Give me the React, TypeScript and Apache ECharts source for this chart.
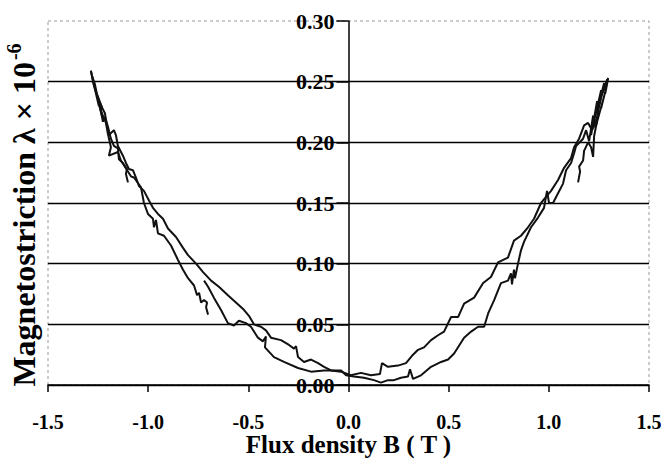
import React, { useEffect, useRef } from "react";
import * as echarts from "echarts";

// Tick labels
const xTickValues = [-1.5, -1.0, -0.5, 0.0, 0.5, 1.0, 1.5];
const yTickValues = [0.0, 0.05, 0.1, 0.15, 0.2, 0.25, 0.3];

// Flux density B (T), magnetostriction (x 1e-6)
const startBranch: number[][] = [
  [-0.701, 0.058], [-0.711, 0.064], [-0.706, 0.068], [-0.721, 0.07], [-0.736, 0.068],
  [-0.746, 0.076], [-0.756, 0.074], [-0.771, 0.082], [-0.801, 0.088], [-0.826, 0.095],
  [-0.851, 0.103], [-0.886, 0.115], [-0.921, 0.123], [-0.951, 0.125], [-0.961, 0.136],
  [-0.971, 0.13], [-0.976, 0.137], [-1.001, 0.141], [-1.021, 0.15], [-1.036, 0.163],
  [-1.071, 0.171], [-1.086, 0.172], [-1.136, 0.185], [-1.151, 0.192], [-1.196, 0.189],
  [-1.186, 0.196], [-1.201, 0.207], [-1.211, 0.216], [-1.236, 0.226], [-1.251, 0.237],
  [-1.271, 0.247], [-1.286, 0.259],
];

const risingBranch: number[][] = [
  [-1.286, 0.259], [-1.266, 0.244], [-1.276, 0.251], [-1.246, 0.23], [-1.261, 0.241],
  [-1.231, 0.222], [-1.246, 0.234], [-1.216, 0.224], [-1.206, 0.214], [-1.196, 0.206],
  [-1.171, 0.21], [-1.161, 0.206], [-1.151, 0.197], [-1.126, 0.189], [-1.111, 0.183],
  [-1.096, 0.178], [-1.076, 0.177], [-1.061, 0.171], [-1.046, 0.164], [-1.021, 0.16],
  [-0.996, 0.152], [-0.976, 0.146], [-0.951, 0.141], [-0.926, 0.137], [-0.901, 0.129],
  [-0.861, 0.122], [-0.826, 0.113], [-0.801, 0.107], [-0.761, 0.1], [-0.726, 0.093],
  [-0.686, 0.086], [-0.647, 0.081], [-0.602, 0.074], [-0.562, 0.068], [-0.522, 0.062],
  [-0.497, 0.057], [-0.472, 0.05], [-0.437, 0.048], [-0.412, 0.045], [-0.387, 0.039],
  [-0.337, 0.037], [-0.297, 0.033], [-0.272, 0.03], [-0.262, 0.032], [-0.252, 0.023],
  [-0.222, 0.019], [-0.187, 0.021], [-0.152, 0.018], [-0.122, 0.015], [-0.087, 0.012],
  [-0.037, 0.012], [-0.012, 0.008], [0.027, 0.007], [0.077, 0.006], [0.127, 0.004],
  [0.162, 0.002], [0.197, 0.004], [0.227, 0.004], [0.262, 0.006], [0.297, 0.007],
  [0.307, 0.013], [0.322, 0.005], [0.362, 0.008], [0.412, 0.015], [0.462, 0.019],
  [0.497, 0.021], [0.527, 0.026], [0.577, 0.039], [0.612, 0.044], [0.647, 0.048],
  [0.677, 0.048], [0.697, 0.059], [0.727, 0.07], [0.761, 0.084], [0.796, 0.086],
  [0.811, 0.092], [0.816, 0.083], [0.826, 0.095], [0.831, 0.088], [0.846, 0.1],
  [0.861, 0.111], [0.876, 0.118], [0.911, 0.13], [0.946, 0.138], [0.976, 0.146],
  [0.991, 0.16], [1.001, 0.15], [1.021, 0.15], [1.046, 0.158], [1.071, 0.166],
  [1.086, 0.177], [1.111, 0.183], [1.126, 0.191], [1.136, 0.197], [1.171, 0.203],
  [1.186, 0.21], [1.201, 0.201], [1.221, 0.222], [1.211, 0.206], [1.241, 0.234],
  [1.221, 0.214], [1.261, 0.243], [1.241, 0.226], [1.276, 0.249], [1.256, 0.236],
  [1.296, 0.253],
];

const fallingBranch: number[][] = [
  [1.296, 0.253], [1.281, 0.24], [1.291, 0.248], [1.261, 0.228], [1.276, 0.238],
  [1.246, 0.22], [1.266, 0.232], [1.236, 0.214], [1.251, 0.224], [1.216, 0.21],
  [1.196, 0.216], [1.176, 0.214], [1.151, 0.203], [1.126, 0.196], [1.111, 0.187],
  [1.076, 0.179], [1.046, 0.169], [1.011, 0.16], [0.986, 0.155], [0.961, 0.15],
  [0.926, 0.137], [0.896, 0.13], [0.861, 0.123], [0.826, 0.119], [0.796, 0.105],
  [0.746, 0.101], [0.711, 0.089], [0.672, 0.084], [0.627, 0.072], [0.577, 0.067],
  [0.547, 0.056], [0.512, 0.056], [0.477, 0.044], [0.447, 0.041], [0.412, 0.037],
  [0.377, 0.031], [0.347, 0.029], [0.322, 0.025], [0.287, 0.018], [0.247, 0.016],
  [0.197, 0.015], [0.167, 0.018], [0.157, 0.009], [0.112, 0.008], [0.062, 0.01],
  [0.012, 0.008], [-0.037, 0.011], [-0.087, 0.012], [-0.122, 0.012], [-0.187, 0.011],
  [-0.252, 0.014], [-0.322, 0.019], [-0.372, 0.023], [-0.417, 0.031], [-0.412, 0.04],
  [-0.427, 0.036], [-0.452, 0.039], [-0.487, 0.048], [-0.512, 0.051], [-0.547, 0.053],
  [-0.572, 0.049], [-0.602, 0.051], [-0.637, 0.062], [-0.672, 0.072], [-0.701, 0.081],
  [-0.721, 0.086],
];

const leftSpur: number[][] = [
  [-1.101, 0.167], [-1.111, 0.174], [-1.106, 0.178], [-1.126, 0.183], [-1.146, 0.186],
  [-1.151, 0.195], [-1.171, 0.197], [-1.186, 0.203], [-1.201, 0.213], [-1.216, 0.221],
  [-1.226, 0.217], [-1.241, 0.231], [-1.231, 0.229], [-1.256, 0.24], [-1.266, 0.248],
  [-1.281, 0.255],
];

const rightSpur: number[][] = [
  [1.146, 0.167], [1.156, 0.176], [1.151, 0.18], [1.171, 0.185], [1.176, 0.193],
  [1.196, 0.2], [1.211, 0.196], [1.221, 0.188], [1.226, 0.205], [1.241, 0.218],
  [1.231, 0.212], [1.251, 0.23], [1.241, 0.222], [1.266, 0.24], [1.256, 0.236],
  [1.281, 0.246], [1.291, 0.252],
];

const FONT = "'Liberation Serif', 'Times New Roman', serif";

export default function App() {
  const ref = useRef<HTMLDivElement>(null);

  useEffect(() => {
    if (!ref.current) return;
    const chart = echarts.init(ref.current, null, { renderer: "svg" });
    const lineStyle = { color: "#111", width: 2 };
    const mk = (name: string, data: number[][]) => ({
      type: "line",
      name,
      data,
      showSymbol: false,
      symbol: "none",
      lineStyle,
      z: 3,
    });
    const gl = 48, gt = 21, gr = 16, gb = 80;
    const W = 665, H = 465;
    const plotW = W - gl - gr;
    chart.setOption({
      animation: false,
      backgroundColor: "#ffffff",
      grid: { left: gl, right: gr, top: gt, bottom: gb, show: false },
      xAxis: {
        type: "value",
        min: xTickValues[0],
        max: xTickValues[xTickValues.length - 1],
        interval: 0.5,
        axisLine: { lineStyle: { color: "#000", width: 1.5 } },
        axisTick: { length: 7, lineStyle: { color: "#000", width: 1.5 } },
        axisLabel: {
          formatter: (v: number) => v.toFixed(1),
          fontFamily: FONT,
          fontWeight: "bold",
          fontSize: 20,
          color: "#000",
          margin: 27,
        },
        splitLine: { show: false },
        name: "Flux density B ( T )",
        nameLocation: "middle",
        nameGap: 47,
        nameMoveOverlap: false,
        nameTextStyle: { fontFamily: FONT, fontWeight: "bold", fontSize: 25, color: "#000" },
      },
      yAxis: {
        type: "value",
        position: "left",
        offset: -plotW / 2,
        min: yTickValues[0],
        max: yTickValues[yTickValues.length - 1],
        interval: 0.05,
        axisLine: { show: true, onZero: false, lineStyle: { color: "#000", width: 1.5 } },
        axisTick: { show: true, length: 12, lineStyle: { color: "#000", width: 1.5 } },
        axisLabel: {
          formatter: (v: number) => v.toFixed(2),
          fontFamily: FONT,
          fontWeight: "bold",
          fontSize: 22,
          color: "#000",
          margin: 14,
        },
        splitLine: { show: true, showMaxLine: false, lineStyle: { color: "#000", width: 1.4 } },
      },
      graphic: [
        {
          type: "rect",
          silent: true,
          z: -1,
          shape: { x: gl, y: gt, width: plotW, height: H - gt - gb },
          style: { fill: "none", stroke: "#9a9a9a", lineWidth: 1, lineDash: [3, 3] },
        },
        {
          type: "text",
          x: 24,
          y: 215,
          rotation: Math.PI / 2,
          silent: true,
          style: {
            text: "{a|Magnetostriction λ × 10}{b|-6}",
            align: "center",
            verticalAlign: "middle",
            rich: {
              a: { fontFamily: FONT, fontWeight: "bold", fontSize: 32, fill: "#000", color: "#000" },
              b: {
                fontFamily: FONT,
                fontWeight: "bold",
                fontSize: 20,
                fill: "#000",
                color: "#000",
                padding: [0, 0, 20, 2],
              },
            },
          },
        },
      ],
      series: [
        mk("start", startBranch),
        mk("rising", risingBranch),
        mk("falling", fallingBranch),
        mk("leftSpur", leftSpur),
        mk("rightSpur", rightSpur),
      ],
    });
    return () => chart.dispose();
  }, []);

  return (
    <div
      ref={ref}
      style={{ position: "absolute", left: 0, top: 0, width: 665, height: 465 }}
    />
  );
}
